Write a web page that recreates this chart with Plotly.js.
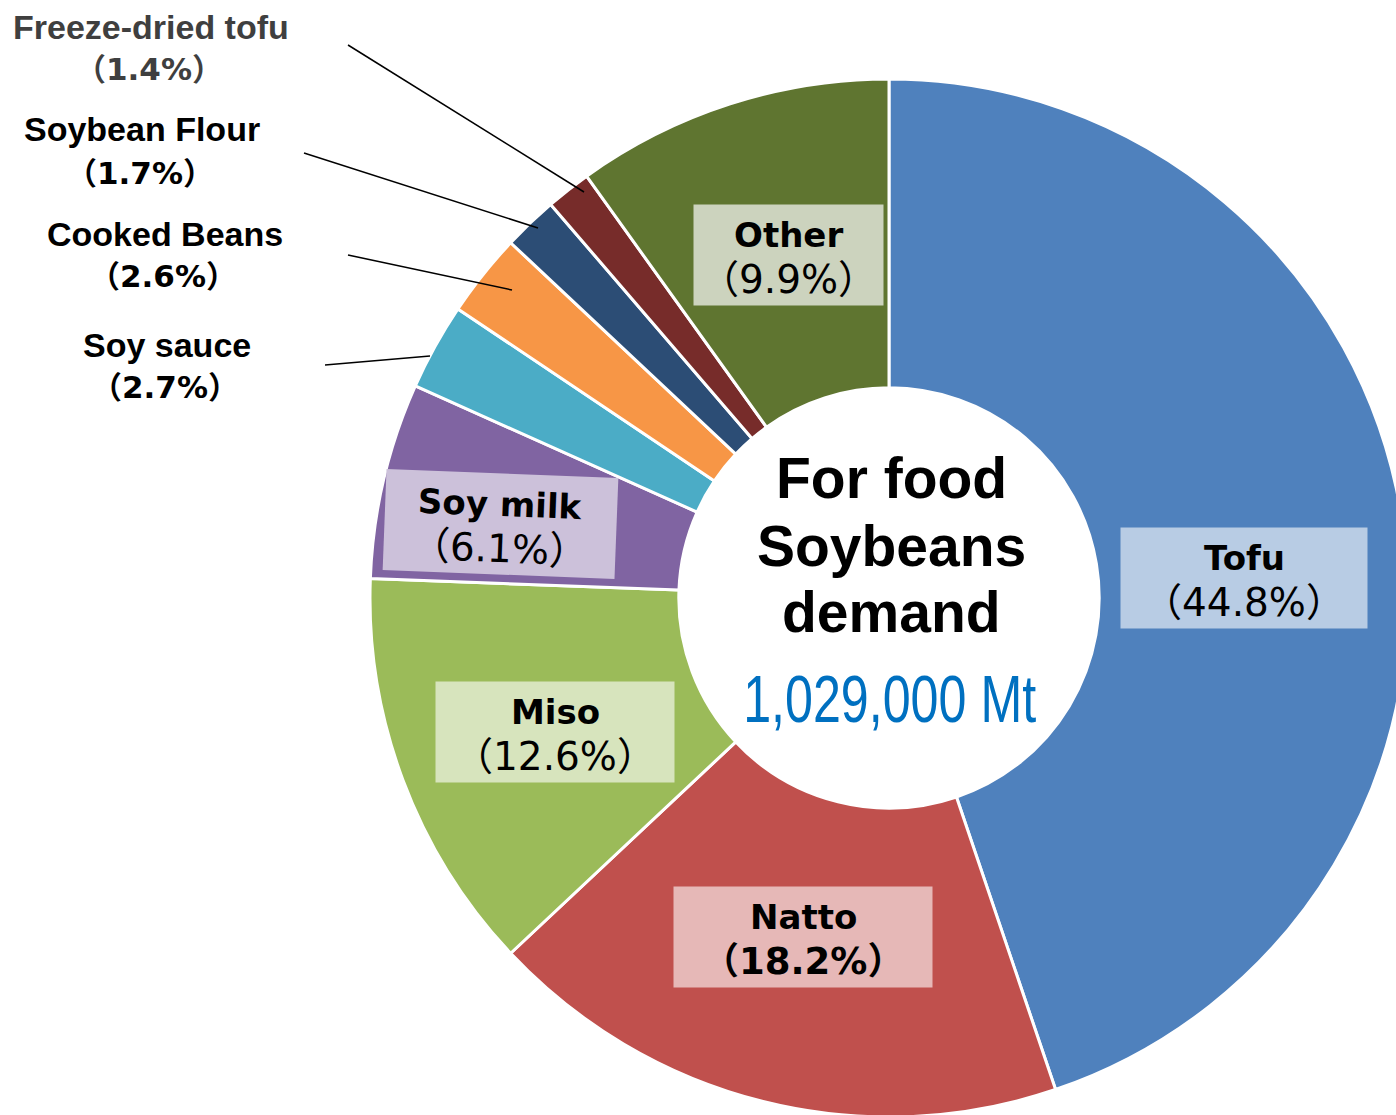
<!DOCTYPE html>
<html>
<head>
<meta charset="utf-8">
<script src="https://cdn.plot.ly/plotly-3.0.1.min.js"></script>
<style>
html,body{margin:0;padding:0;overflow:hidden;background:#fff;}
#chart{position:absolute;left:0;top:0;width:1410px;height:1120px;}
</style>
</head>
<body>
<div id="chart"></div>
<script>
// ---- data ----
const categories = ["Tofu","Natto","Miso","Soy milk","Soy sauce","Cooked Beans","Soybean Flour","Freeze-dried tofu","Other"];
const shares = [44.8, 18.2, 12.6, 6.1, 2.7, 2.6, 1.7, 1.4, 9.9];
const sliceColors = ["#4F81BD","#C0504D","#9BBB59","#8064A2","#4BACC6","#F79646","#2C4D75","#772C2A","#5F7530"];
const centerTitle = ["For food","Soybeans","demand"];
const totalLabel = "1,029,000 Mt";

// ---- layout helpers (pixel -> paper) ----
const W = 1410, H = 1120;
const px = x => x / W;
const py = y => 1 - y / H;
const PAREN = "font-family:'Noto Sans CJK JP'";
const pct = v => "<span style=\"" + PAREN + "\">（</span>" + v.toFixed(1) + "%<span style=\"" + PAREN + "\">）</span>";

const trace = {
  type: "pie",
  labels: categories,
  values: shares,
  sort: false,
  direction: "clockwise",
  rotation: 0,
  hole: 0.405,
  textinfo: "none",
  hoverinfo: "label+percent",
  marker: {colors: sliceColors, line: {color: "#ffffff", width: 3}},
  domain: {x: [px(370), px(1408)], y: [py(1117), py(79)]},
  showlegend: false
};

const annotations = [];
const BOXFONT = "DejaVu Sans, Verdana, sans-serif";
// inner boxed labels
const boxed = {
  "Tofu":     {x:1244, y:578, w:246, h:100, bg:"#B8CCE4", ang:0,   boldPct:false},
  "Natto":    {x:803,  y:937, w:258, h:100, bg:"#E6B8B7", ang:0,   boldPct:true},
  "Miso":     {x:555,  y:732, w:238, h:100, bg:"#D7E4BD", ang:0,   boldPct:false},
  "Soy milk": {x:500,  y:524, w:231, h:100, bg:"#CCC1DA", ang:2.2, boldPct:false},
  "Other":    {x:788,  y:255, w:189, h:100, bg:"#CCD3BE", ang:0,   boldPct:false}
};
categories.forEach((c, i) => {
  const b = boxed[c];
  if (!b) return;
  const a = b.ang * Math.PI / 180;
  // box
  annotations.push({
    xref:"paper", yref:"paper", x:px(b.x), y:py(b.y), xanchor:"center", yanchor:"middle",
    text:" ", showarrow:false, width:b.w, height:b.h, bgcolor:b.bg, borderpad:0, textangle:b.ang,
    font:{family:BOXFONT, size:10, color:"#000"}
  });
  const dn = -20, dp = 21;
  annotations.push({
    xref:"paper", yref:"paper", x:px(b.x - dn*Math.sin(a)), y:py(b.y + dn*Math.cos(a)),
    xanchor:"center", yanchor:"middle", textangle:b.ang,
    text:"<b>" + c + "</b>", showarrow:false,
    font:{family:BOXFONT, size:34, color:"#000000"}
  });
  const p = b.boldPct ? "<b>" + pct(shares[i]) + "</b>" : pct(shares[i]);
  annotations.push({
    xref:"paper", yref:"paper", x:px(b.x - dp*Math.sin(a)), y:py(b.y + dp*Math.cos(a)),
    xanchor:"center", yanchor:"middle", textangle:b.ang,
    text:p, showarrow:false,
    font:{family:BOXFONT, size:b.boldPct ? 37 : 39, color:"#000000"}
  });
});

// outer labels with leader lines
const outer = {
  "Freeze-dried tofu": {nx:151, ny:27,  py:66,  col:"#3F3F3F", line:[348,45,584,192]},
  "Soybean Flour":     {nx:142, ny:129, py:170, col:"#000000", line:[304,153,538,228]},
  "Cooked Beans":      {nx:165, ny:234, py:273, col:"#000000", line:[348,255,512,290]},
  "Soy sauce":         {nx:167, ny:345, py:384, col:"#000000", line:[325,365,430,356]}
};
const shapes = [];
categories.forEach((c, i) => {
  const o = outer[c];
  if (!o) return;
  annotations.push({
    xref:"paper", yref:"paper", x:px(o.nx), y:py(o.ny), xanchor:"center", yanchor:"middle",
    text:"<b>" + c + "</b>", showarrow:false,
    font:{family:"Liberation Sans, Arial, sans-serif", size:34, color:o.col}
  });
  annotations.push({
    xref:"paper", yref:"paper", x:px(o.nx - 2), y:py(o.py), xanchor:"center", yanchor:"middle",
    text:"<b>" + pct(shares[i]) + "</b>", showarrow:false,
    font:{family:BOXFONT, size:31, color:o.col}
  });
  shapes.push({
    type:"line", xref:"paper", yref:"paper",
    x0:px(o.line[0]), y0:py(o.line[1]), x1:px(o.line[2]), y1:py(o.line[3]),
    line:{color:"#000000", width:1.5}
  });
});

// center text
const centerY = [478, 546, 612];
centerTitle.forEach((t, k) => {
  annotations.push({
    xref:"paper", yref:"paper", x:px(891), y:py(centerY[k]), xanchor:"center", yanchor:"middle",
    text:"<b>" + t + "</b>", showarrow:false,
    font:{family:"Liberation Sans, Arial, sans-serif", size:57, color:"#000000"}
  });
});
annotations.push({
  xref:"paper", yref:"paper", x:px(889), y:py(699), xanchor:"center", yanchor:"middle",
  text:totalLabel, showarrow:false,
  font:{family:"Liberation Sans, Arial, sans-serif", size:66, color:"#0070C0"}
});

const layout = {
  width: W, height: H,
  margin: {l:0, r:0, t:0, b:0, pad:0},
  paper_bgcolor: "#ffffff",
  annotations: annotations,
  shapes: shapes
};

Plotly.newPlot("chart", [trace], layout, {displayModeBar:false, staticPlot:true}).then(gd => {
  // condense the total label to the narrow width of the original typeface
  gd.querySelectorAll(".annotation-text").forEach(el => {
    if (el.textContent === totalLabel) {
      el.setAttribute("textLength", "293");
      el.setAttribute("lengthAdjust", "spacingAndGlyphs");
    }
  });
});
</script>
</body>
</html>
